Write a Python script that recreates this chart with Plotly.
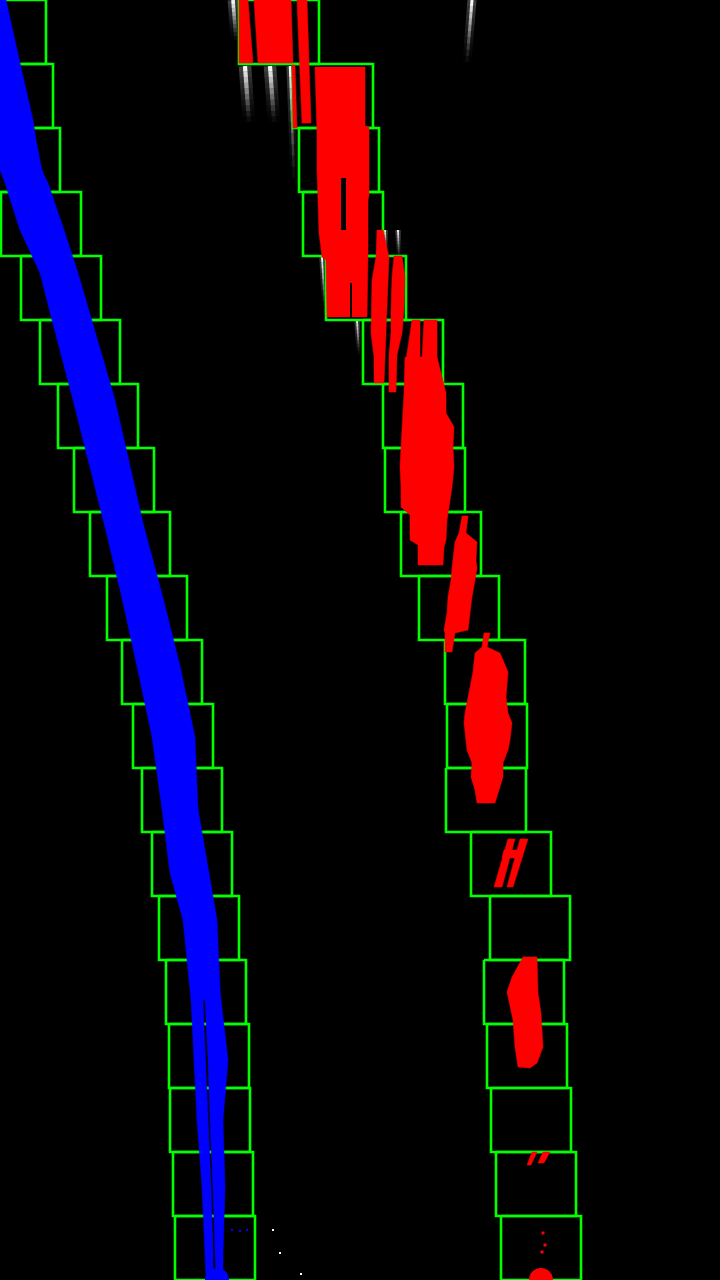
import plotly.graph_objects as go

# ---------------- data ----------------
# sliding windows (left x of each window, top row first)
win_rows = list(range(20))
left_win_x = [-34, -27, -20, 1, 21, 40, 58, 74, 90, 107, 122, 133, 142, 152, 159, 166, 169, 170, 173, 175]
right_win_x = [239, 293, 299, 303, 326, 363, 383, 385, 401, 419, 445, 447, 446, 471, 490, 484, 487, 491, 496, 501]

# left lane (blue) band edges
blue_y = [0, 63, 120, 140, 170, 175, 183, 230, 273, 320, 400, 523, 594, 666, 737, 809, 873, 920, 987, 1000]
blue_left = [-45, -25, -10, -5, 0, 2, 5, 20, 40, 52, 73, 104, 121, 137, 152, 162, 170, 183, 190, 191]
blue_right = [6, 20, 33, 36, 42, 44, 48, 64, 78, 92, 115, 143, 162, 180, 195, 198, 209, 217, 220, 221]
# lower fragmented strands
strand_y = [1000, 1060, 1120, 1187, 1253, 1276]
strand_a_left = [191, 194, 197, 202, 205, 206]
strand_a_right = [203, 206, 208, 211, 213, 213]
strand_b_left = [205, 208, 210, 213, 215, 216]
strand_b_right = [221, 228, 223, 225, 223, 223]
blue_dots_x = [232, 240, 247]
blue_dots_y = [1230, 1231, 1230]
blue_base_x = [217]
blue_base_y = [1280]

# right lane (red) pixel blobs: (x list, y list)
red_blobs = [
    ([239, 248, 253, 239], [0, 0, 63, 63]),
    ([254, 291, 293, 258], [0, 0, 63, 63]),
    ([297, 307, 311, 302], [0, 0, 123, 123]),
    ([292, 295, 297, 293], [65, 65, 128, 128]),
    ([315, 365, 365, 369, 369, 368, 368, 367, 327, 326, 322, 319, 317, 317],
     [67, 67, 126, 127, 195, 200, 255, 317, 317, 260, 257, 233, 170, 135]),
    ([377, 383, 389, 388, 386, 385, 384, 374, 374, 371, 372, 376],
     [230, 230, 257, 280, 333, 357, 383, 383, 357, 333, 280, 257]),
    ([394, 402, 405, 404, 402, 397, 396, 389, 389, 391, 391, 392],
     [256, 256, 277, 310, 333, 355, 392, 392, 355, 333, 310, 277]),
    ([412, 420, 420, 406], [320, 320, 360, 360]),
    ([424, 437, 437, 422], [320, 320, 360, 360]),
    ([405, 437, 446, 446, 454, 453, 454, 452, 449, 447, 446, 444, 443,
      418, 418, 410, 410, 401, 401, 400, 401, 402, 403, 404],
     [357, 357, 393, 413, 427, 447, 467, 487, 507, 520, 540, 547, 565,
      565, 545, 540, 515, 507, 487, 467, 447, 427, 413, 393]),
    ([462, 468, 466, 477, 476, 477, 475, 472, 470, 468, 455, 452,
      445, 445, 444, 447, 448, 451, 452, 453, 455, 459],
     [516, 516, 533, 542, 560, 568, 580, 597, 613, 630, 633, 652,
      652, 633, 630, 613, 597, 580, 568, 560, 542, 533]),
    ([484, 490, 487, 500, 508, 506, 508, 512, 510, 508, 503, 503, 499, 495,
      477, 475, 471, 472, 467, 466, 464, 465, 468, 473, 475, 482],
     [633, 633, 647, 653, 672, 697, 713, 723, 740, 750, 763, 777, 790, 803,
      803, 790, 777, 763, 750, 740, 723, 713, 697, 672, 653, 647]),
    ([508, 515, 502, 494], [839, 839, 887, 887]),
    ([520, 528, 513, 507], [839, 839, 887, 887]),
    ([504, 522, 520, 502], [850, 850, 858, 858]),
    ([523, 537, 538, 541, 543, 537, 530, 518, 515, 513, 507, 512],
     [957, 957, 993, 1013, 1047, 1063, 1068, 1067, 1047, 1020, 992, 977]),
    ([532, 537, 531, 527], [1152, 1152, 1165, 1165]),
    ([543, 550, 544, 538], [1152, 1152, 1163, 1163]),
]
red_black_gaps = [
    ([341, 346, 346, 341], [178, 178, 230, 230]),
    ([350, 352, 352, 350], [283, 283, 317, 317]),
]
red_dots_x = [543, 545, 542]
red_dots_y = [1233, 1245, 1252]
red_base_x = [541]
red_base_y = [1280]

# white glare streaks from the source image (top x, bottom x, top y, bottom y)
streak_x0 = [233, 245, 270, 290, 472, 322, 357, 398, 385]
streak_x1 = [236, 249, 274, 294, 467, 325, 359, 399, 386]
streak_y0 = [0, 66, 66, 66, 0, 257, 320, 230, 230]
streak_y1 = [40, 122, 122, 178, 62, 312, 354, 258, 256]
streak_w = [6, 7, 7, 4, 5, 3, 3, 3, 3]
white_dots_x = [273, 280, 301]
white_dots_y = [1230, 1253, 1274]

# ---------------- figure ----------------
W, H = 720, 1280
WIN_W, WIN_H = 80, 64
GREEN = "#00ff00"
RED = "#ff0000"
BLUE = "#0000ff"

fig = go.Figure()

# glare streaks (faded downward)
N = 10
for x0, x1, y0, y1, w in zip(streak_x0, streak_x1, streak_y0, streak_y1, streak_w):
    for k in range(N):
        t0, t1 = k / N, (k + 1) / N
        op = 0.95 * (1 - t0) ** 1.4
        xs = [x0 + (x1 - x0) * t0, x0 + (x1 - x0) * t1]
        ys = [y0 + (y1 - y0) * t0, y0 + (y1 - y0) * t1]
        fig.add_trace(go.Scatter(x=xs, y=ys, mode="lines",
                                 line=dict(color="white", width=w * 1.8),
                                 opacity=op * 0.25, hoverinfo="skip", showlegend=False))
        fig.add_trace(go.Scatter(x=xs, y=ys, mode="lines",
                                 line=dict(color="white", width=max(w * 0.6, 1.5)),
                                 opacity=op, hoverinfo="skip", showlegend=False))

# sliding windows
def rect_trace(xl_list):
    xs, ys = [], []
    for r, xl in zip(win_rows, xl_list):
        yt, yb = r * WIN_H, (r + 1) * WIN_H
        xs += [xl, xl + WIN_W, xl + WIN_W, xl, xl, None]
        ys += [yt, yt, yb, yb, yt, None]
    return go.Scatter(x=xs, y=ys, mode="lines", line=dict(color=GREEN, width=2.6),
                      hoverinfo="skip", showlegend=False)

fig.add_trace(rect_trace(left_win_x))
fig.add_trace(rect_trace(right_win_x))

# blue lane
def poly(xl, xr, ys, color):
    return go.Scatter(x=list(xl) + list(xr)[::-1], y=list(ys) + list(ys)[::-1],
                      mode="lines", fill="toself", fillcolor=color,
                      line=dict(color=color, width=0.5), hoverinfo="skip", showlegend=False)

fig.add_trace(poly(blue_left, blue_right, blue_y, BLUE))
fig.add_trace(poly(strand_a_left, strand_a_right, strand_y, BLUE))
fig.add_trace(poly(strand_b_left, strand_b_right, strand_y, BLUE))
fig.add_trace(go.Scatter(x=blue_dots_x, y=blue_dots_y, mode="markers",
                         marker=dict(color=BLUE, size=2, symbol="square"),
                         hoverinfo="skip", showlegend=False))
fig.add_trace(go.Scatter(x=blue_base_x, y=blue_base_y, mode="markers",
                         marker=dict(color=BLUE, size=24, line=dict(width=0)),
                         hoverinfo="skip", showlegend=False))

# red lane
for xs, ys in red_blobs:
    fig.add_trace(go.Scatter(x=xs + [xs[0]], y=ys + [ys[0]], mode="lines", fill="toself",
                             fillcolor=RED, line=dict(color=RED, width=0.5),
                             hoverinfo="skip", showlegend=False))
for xs, ys in red_black_gaps:
    fig.add_trace(go.Scatter(x=xs + [xs[0]], y=ys + [ys[0]], mode="lines", fill="toself",
                             fillcolor="black", line=dict(color="black", width=0),
                             hoverinfo="skip", showlegend=False))
fig.add_trace(go.Scatter(x=red_dots_x, y=red_dots_y, mode="markers",
                         marker=dict(color=RED, size=3, symbol="square"),
                         hoverinfo="skip", showlegend=False))
fig.add_trace(go.Scatter(x=red_base_x, y=red_base_y, mode="markers",
                         marker=dict(color=RED, size=24, line=dict(width=0)),
                         hoverinfo="skip", showlegend=False))
fig.add_trace(go.Scatter(x=white_dots_x, y=white_dots_y, mode="markers",
                         marker=dict(color="white", size=2, symbol="square"),
                         hoverinfo="skip", showlegend=False))

fig.update_layout(
    width=W, height=H,
    margin=dict(l=0, r=0, t=0, b=0, pad=0),
    paper_bgcolor="black", plot_bgcolor="black",
    xaxis=dict(range=[0, W], visible=False, showgrid=False, zeroline=False, fixedrange=True),
    yaxis=dict(range=[H, 0], visible=False, showgrid=False, zeroline=False, fixedrange=True),
    showlegend=False,
)

fig.write_html(
    "out.html",
    config={"displayModeBar": False},
    post_script="document.body.style.margin='0';document.body.style.padding='0';"
                "document.body.style.background='black';document.body.style.overflow='hidden';",
)
